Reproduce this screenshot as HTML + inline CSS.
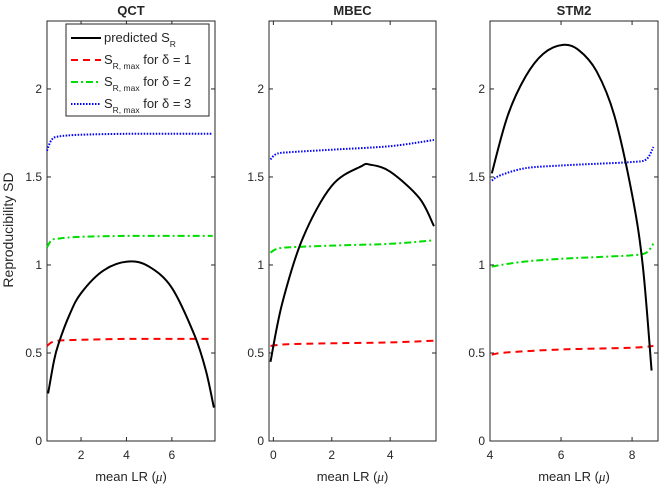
<!DOCTYPE html>
<html><head><meta charset="utf-8"><style>
body{margin:0;background:#fff;}
svg text{font-family:"Liberation Sans",sans-serif;fill:#262626;}
</style></head><body>
<svg id="chart" width="660" height="487" xmlns="http://www.w3.org/2000/svg">
<text x="13" y="230" font-size="14" text-anchor="middle" transform="rotate(-90 13 230)">Reproducibility SD</text>
<g id="panels"></g>
</svg>
<script>
const titles = ["QCT","MBEC","STM2"];
const xTicks = [[2,4,6],[0,2,4],[4,6,8]];
const xDomains = [[0.5,7.9],[-0.15,5.57],[4.0,8.73]];
const yTicks = [0,0.5,1,1.5,2];
const yTickLabels = ["0","0.5","1","1.5","2"];
const predX = [[0.55,0.8,1,1.5,2,3,4.1,5,6,7,7.5,7.85],[-0.1,0.3,1,2,3,3.3,4,5,5.5],[4.05,4.5,5,5.5,6.05,6.5,7,7.5,8,8.3,8.55]];
const predY = [[0.27,0.45,0.55,0.72,0.84,0.97,1.02,0.99,0.87,0.6,0.4,0.19],[0.45,0.78,1.15,1.45,1.56,1.57,1.53,1.38,1.22],[1.52,1.85,2.07,2.2,2.25,2.22,2.1,1.85,1.4,1.0,0.4]];
const maxX = [[0.5,0.7,1,2,4,6,7.8],[-0.1,0.1,0.5,2,4,5.5],[4.05,4.3,5,6,7,8,8.4,8.6]];
const d1Y = [[0.54,0.56,0.57,0.575,0.58,0.58,0.58],[0.54,0.545,0.55,0.555,0.56,0.57],[0.49,0.5,0.51,0.52,0.525,0.53,0.535,0.54]];
const d2Y = [[1.1,1.14,1.15,1.16,1.165,1.165,1.165],[1.07,1.09,1.1,1.11,1.12,1.14],[0.99,1.0,1.02,1.035,1.045,1.055,1.07,1.12]];
const d3Y = [[1.65,1.71,1.73,1.74,1.745,1.745,1.745],[1.6,1.63,1.64,1.655,1.675,1.71],[1.48,1.51,1.55,1.565,1.575,1.585,1.6,1.67]];
const boxes=[[47,215],[269,436],[490,658]];
const yTop=21,yBot=441,yMax=2.386;
const NS="http://www.w3.org/2000/svg";
const g=document.getElementById('panels');
function yS(v){return yBot-(v/yMax)*(yBot-yTop);}
function el(t,a,p){const e=document.createElementNS(NS,t);for(const k in a)e.setAttribute(k,a[k]);(p||g).appendChild(e);return e;}
function smooth(P){
  let d='M'+P[0][0].toFixed(1)+','+P[0][1].toFixed(1);
  for(let k=0;k<P.length-1;k++){
    const p0=P[Math.max(k-1,0)],p1=P[k],p2=P[k+1],p3=P[Math.min(k+2,P.length-1)];
    const c1x=p1[0]+(p2[0]-p0[0])/6,c1y=p1[1]+(p2[1]-p0[1])/6;
    const c2x=p2[0]-(p3[0]-p1[0])/6,c2y=p2[1]-(p3[1]-p1[1])/6;
    d+=' C'+c1x.toFixed(1)+','+c1y.toFixed(1)+' '+c2x.toFixed(1)+','+c2y.toFixed(1)+' '+p2[0].toFixed(1)+','+p2[1].toFixed(1);
  }
  return d;
}
for(let i=0;i<3;i++){
  const L=boxes[i][0],R=boxes[i][1],d0=xDomains[i][0],d1=xDomains[i][1];
  const xS=v=>L+(v-d0)/(d1-d0)*(R-L);
  const pg=el('g',{});
  
  
  const fr=el('rect',{x:L,y:yTop,width:R-L,height:yBot-yTop,fill:'#fff',stroke:'#262626','stroke-width':1},pg);
  
  
  const tt=el('text',{x:(L+R)/2,y:15,'font-size':13,'font-weight':'bold','text-anchor':'middle'},pg);
  tt.textContent=titles[i];
  
  
  yTicks.forEach((v,j)=>{
    const y=yS(v);
    el('line',{x1:L,x2:L+4,y1:y,y2:y,stroke:'#262626'},pg);
    el('line',{x1:R,x2:R-4,y1:y,y2:y,stroke:'#262626'},pg);
    const t=el('text',{x:L-5,y:y+4,'font-size':12,'text-anchor':'end'},pg);
    t.textContent=yTickLabels[j];
    
    
  });
  xTicks[i].forEach(v=>{
    const x=xS(v);
    el('line',{x1:x,x2:x,y1:yBot,y2:yBot-4,stroke:'#262626'},pg);
    el('line',{x1:x,x2:x,y1:yTop,y2:yTop+4,stroke:'#262626'},pg);
    const t=el('text',{x:x,y:yBot+18,'font-size':12,'text-anchor':'middle'},pg);
    t.textContent=v;
    
    
  });
  const xl=el('text',{x:(L+R)/2,y:481,'font-size':13,'text-anchor':'middle'},pg);
  xl.innerHTML='mean LR (<tspan font-style="italic" font-family="Liberation Serif">μ</tspan>)';
  
  
  const series=[[maxX[i],d1Y[i],'#ff0000','7,5','delta1-line'],[maxX[i],d2Y[i],'#00dd00','7,3,2,3','delta2-line'],[maxX[i],d3Y[i],'#0000ff','1.5,1.5','delta3-line'],[predX[i],predY[i],'#000','','predicted-line']];
  series.forEach(s=>{
    const P=s[0].map((x,k)=>[xS(x),yS(s[1][k])]);
    const attrs={d:smooth(P),fill:'none',stroke:s[2],'stroke-width':2};
    if(s[3])attrs['stroke-dasharray']=s[3];
    const p=el('path',attrs,pg);
    
    
  });
}
const lg=el('g',{});


el('rect',{x:66,y:24,width:143,height:92,fill:'#fff',stroke:'#262626'},lg);
const items=[['#000','','predicted S','R',''],['#ff0000','7,5','S','R, max',' for δ = 1'],['#00dd00','7,3,2,3','S','R, max',' for δ = 2'],['#0000ff','1.5,1.5','S','R, max',' for δ = 3']];
items.forEach((it,k)=>{
  const y=38+k*22;
  const la={x1:71,x2:101,y1:y,y2:y,stroke:it[0],'stroke-width':2};
  if(it[1])la['stroke-dasharray']=it[1];
  el('line',la,lg);
  const t=el('text',{x:104,y:y+4,'font-size':13},lg);
  t.innerHTML=it[2]+'<tspan font-size="8.5" dy="5">'+it[3]+'</tspan><tspan dy="-5">'+it[4]+'</tspan>';
  
  
});
</script>
</body></html>
